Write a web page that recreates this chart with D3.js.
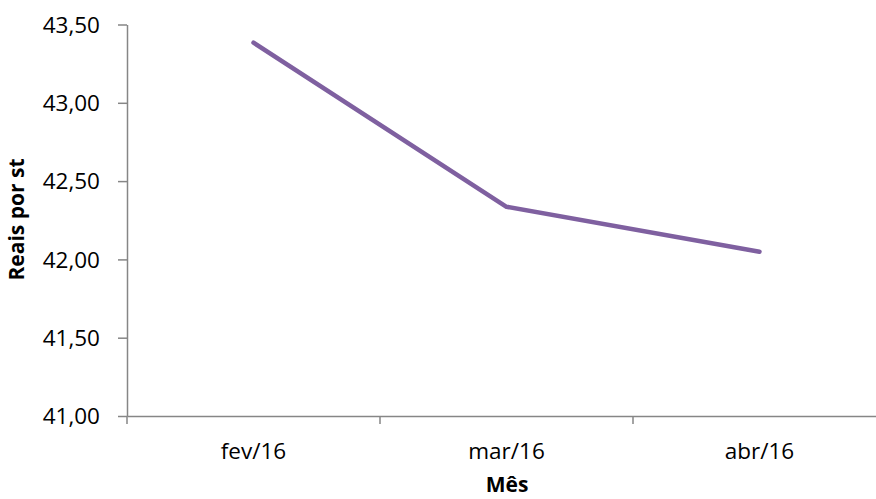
<!DOCTYPE html>
<html><head><meta charset="utf-8">
<script src="https://cdn.jsdelivr.net/npm/d3@7"></script>
<style>body{margin:0;background:#fff;} text{font-family:"Open Sans",Lato,sans-serif;}</style>
</head><body><svg id="c" width="876" height="499"></svg>
<script>
const categories = ["fev/16","mar/16","abr/16"];
const values = [43.384, 42.336, 42.049];
const yTicks = [41.0, 41.5, 42.0, 42.5, 43.0, 43.5];
const yTitle = "Reais por st";
const xTitle = "Mês";

(function(){
const svg = d3.select("#c");
const mLeft = 127, mRight = 886, mTop = 24.5, mBottom = 416;
const x = d3.scaleBand().domain(categories).range([mLeft, mRight]);
const y = d3.scaleLinear().domain([41, 43.5]).range([mBottom, mTop]);
const fmt = v => v.toFixed(2).replace(".", ",");
const axisColor = "#868686";

// y axis
const ya = svg.append("g").attr("transform", `translate(${mLeft},0)`)
  .call(d3.axisLeft(y).tickValues(yTicks).tickFormat(fmt).tickSize(9).tickSizeOuter(0));
ya.select(".domain").attr("stroke", axisColor).attr("stroke-width", 1.5);
ya.selectAll(".tick line").attr("stroke", axisColor).attr("stroke-width", 1.5);
ya.selectAll(".tick text").attr("font-size", 22.5).attr("fill", "#000").attr("x", -27).attr("dy", "0.35em");

// x axis
const xa = svg.append("g").attr("transform", `translate(0,${mBottom})`)
  .call(d3.axisBottom(x).tickSize(0).tickSizeOuter(0));
xa.select(".domain").attr("stroke", axisColor).attr("stroke-width", 1.5);
xa.selectAll(".tick text").attr("font-size", 22.5).attr("fill", "#000").attr("y", 43).attr("dy", "0");
const bounds = categories.map(c => x(c)).concat([mRight]);
svg.append("g").selectAll("line").data(bounds).join("line")
  .attr("x1", d => d).attr("x2", d => d).attr("y1", mBottom).attr("y2", mBottom + 8)
  .attr("stroke", axisColor).attr("stroke-width", 1.5);

// line
const line = d3.line().x((d, i) => x(categories[i]) + x.bandwidth() / 2).y(d => y(d));
svg.append("path").datum(values).attr("d", line)
  .attr("fill", "none").attr("stroke", "#7F60A0").attr("stroke-width", 4.5)
  .attr("stroke-linecap", "round").attr("stroke-linejoin", "round");

// titles
svg.append("text").attr("transform", `translate(24,${(157 + 282) / 2}) rotate(-90)`)
  .attr("text-anchor", "middle").attr("font-size", 21).attr("font-weight", "bold").text(yTitle);
svg.append("text").attr("x", 507).attr("y", 492)
  .attr("text-anchor", "middle").attr("font-size", 21).attr("font-weight", "bold").text(xTitle);
})();
</script></body></html>
